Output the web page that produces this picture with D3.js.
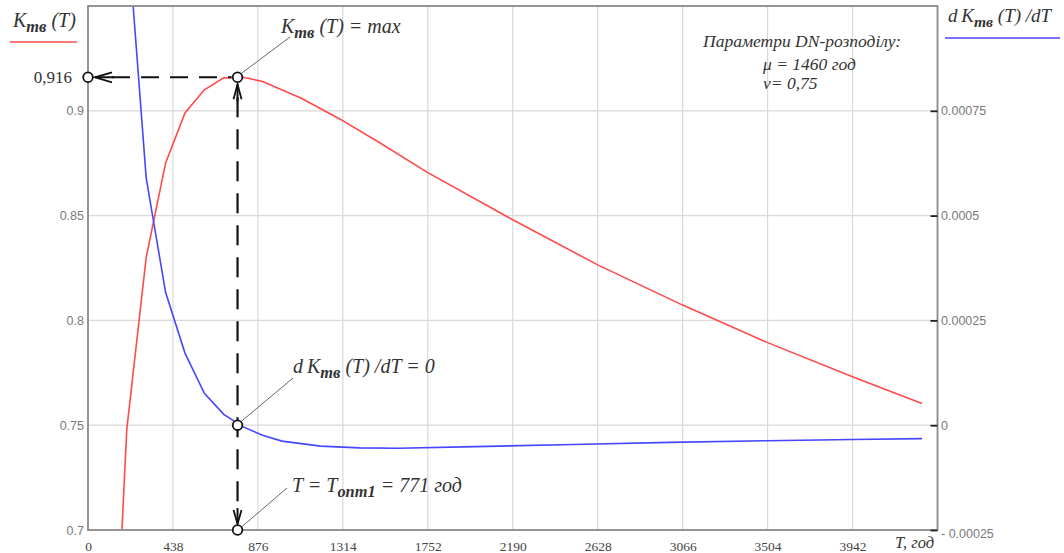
<!DOCTYPE html>
<html>
<head>
<meta charset="utf-8">
<script src="https://cdn.jsdelivr.net/npm/d3@7"></script>
<style>
  html, body { margin: 0; padding: 0; background: #fff; }
  svg { display: block; }
</style>
</head>
<body>
<svg id="chart" width="1064" height="553"></svg>
<script>
// ---------- data ----------
const T_RED = [175, 200, 300, 400, 500, 600, 700, 800, 900, 1100, 1300, 1500, 1752, 2190, 2628, 3066, 3504, 3942, 4300];
const K_RED = [0.700, 0.748, 0.830, 0.875, 0.899, 0.910, 0.9157, 0.916, 0.914, 0.906, 0.896, 0.885, 0.8705, 0.848, 0.8265, 0.8073, 0.7894, 0.7731, 0.7604];

const T_BLUE = [200, 300, 400, 500, 600, 700, 800, 900, 1000, 1200, 1400, 1600, 2000, 2500, 3000, 3500, 3942, 4300];
const DK_BLUE = [0.0012, 0.00059, 0.000317, 0.000172, 0.000076, 0.000026, -0.000004, -0.000024, -0.000038, -0.00005, -0.000054, -0.000055, -0.000051, -0.000046, -0.000041, -0.000037, -0.000034, -0.000032];

const X_TICKS = [0, 438, 876, 1314, 1752, 2190, 2628, 3066, 3504, 3942];
const LEFT_TICKS = [0.7, 0.75, 0.8, 0.85, 0.9];
const LEFT_LABELS = ["0.7", "0.75", "0.8", "0.85", "0.9"];
const RIGHT_TICKS = [-0.00025, 0, 0.00025, 0.0005, 0.00075];
const RIGHT_LABELS = ["- 0.00025", "0", "0.00025", "0.0005", "0.00075"];

const T_OPT = 771;
const K_MAX = 0.916;
const K_MAX_LABEL = "0,916";
const PARAM_LINES = ["Параметри DN-розподілу:", "μ = 1460 год", "ν= 0,75"];

// ---------- layout ----------
const L = 88, R = 937.5, TOP = 6, B = 530;
const svg = d3.select("#chart");
svg.append("rect").attr("width", 1064).attr("height", 553).attr("fill", "#fff");

const x = d3.scaleLinear().domain([0, 4380]).range([L, R]);
const yL = d3.scaleLinear().domain([0.7, 0.95]).range([B, TOP]);
const yR = d3.scaleLinear().domain([-0.00025, 0.001]).range([B, TOP]);

const SERIF = "'Liberation Serif','Times New Roman',serif";
const SANS = "'Liberation Sans',Arial,sans-serif";

// grid
const grid = svg.append("g").attr("stroke", "#d9d9d9").attr("stroke-width", 1.2);
X_TICKS.filter(d => d > 0).forEach(d => {
  grid.append("line").attr("x1", x(d)).attr("x2", x(d)).attr("y1", TOP).attr("y2", B);
});
LEFT_TICKS.filter(d => d > 0.7).forEach(d => {
  grid.append("line").attr("x1", L).attr("x2", R).attr("y1", yL(d)).attr("y2", yL(d));
});

// curves
svg.append("clipPath").attr("id", "clip").append("rect")
  .attr("x", L).attr("y", TOP).attr("width", R - L).attr("height", B - TOP);
const redLine = d3.line().x((d, i) => x(T_RED[i])).y(d => yL(d));
const blueLine = d3.line().x((d, i) => x(T_BLUE[i])).y(d => yR(d));
const curves = svg.append("g").attr("clip-path", "url(#clip)");
curves.append("path").attr("d", redLine(K_RED)).attr("fill", "none")
  .attr("stroke", "#ff4a4a").attr("stroke-width", 1.6);
curves.append("path").attr("d", blueLine(DK_BLUE)).attr("fill", "none")
  .attr("stroke", "#4646ff").attr("stroke-width", 1.6);

// frame
svg.append("rect").attr("x", L).attr("y", TOP).attr("width", R - L).attr("height", B - TOP)
  .attr("fill", "none").attr("stroke", "#8a8a8a").attr("stroke-width", 1.8);

// axes
const xAxis = svg.append("g").attr("transform", `translate(0,${B})`)
  .call(d3.axisBottom(x).tickValues(X_TICKS).tickSize(0).tickPadding(11).tickFormat(d => String(d)));
xAxis.select(".domain").remove();
xAxis.selectAll("text").attr("font-family", SERIF).attr("font-size", 13.5).attr("fill", "#444");

const lAxis = svg.append("g").attr("transform", `translate(${L},0)`)
  .call(d3.axisLeft(yL).tickValues(LEFT_TICKS).tickSize(0).tickPadding(4)
    .tickFormat((d, i) => LEFT_LABELS[i]));
lAxis.select(".domain").remove();
lAxis.selectAll("text").attr("font-family", SANS).attr("font-size", 12.5).attr("fill", "#7a7a7a");

const rAxis = svg.append("g").attr("transform", `translate(${R},0)`)
  .call(d3.axisRight(yR).tickValues(RIGHT_TICKS).tickSizeInner(-7).tickSizeOuter(0).tickPadding(3.5)
    .tickFormat((d, i) => RIGHT_LABELS[i]));
rAxis.select(".domain").remove();
rAxis.selectAll("line").attr("stroke", "#222").attr("stroke-width", 1.8);
rAxis.selectAll("text").attr("font-family", SANS).attr("font-size", 12.5).attr("fill", "#7a7a7a");
rAxis.selectAll(".tick").filter(d => d === -0.00025).select("text").attr("dy", "0.62em");

// x axis title
svg.append("text").attr("x", 895).attr("y", 548).attr("font-family", SERIF)
  .attr("font-style", "italic").attr("font-size", 16.5).attr("fill", "#333").text("T, год");

// rich text helper
function rich(xp, yp, size, parts, color) {
  const t = svg.append("text").attr("x", xp).attr("y", yp).attr("font-family", SERIF)
    .attr("font-size", size).attr("fill", color || "#333").attr("font-style", "italic");
  let shift = 0;
  parts.forEach(p => {
    const s = t.append("tspan").text(p.t).attr("xml:space", "preserve");
    const target = p.sub ? 5 : 0;
    if (target !== shift) { s.attr("dy", target - shift); shift = target; }
    if (p.sub) s.attr("font-size", size * 0.82).attr("font-weight", "bold");
  });
  return t;
}

// legends
rich(13, 27, 20, [{t: "K"}, {t: "тв", sub: true}, {t: "\u00a0(T)"}]);
svg.append("line").attr("x1", 10).attr("x2", 77).attr("y1", 42).attr("y2", 42)
  .attr("stroke", "#ff4a4a").attr("stroke-width", 1.6);
rich(948, 22, 19, [{t: "d\u2009K"}, {t: "тв", sub: true}, {t: "\u00a0(T) /dT"}]);
svg.append("line").attr("x1", 945).attr("x2", 1060).attr("y1", 38).attr("y2", 38)
  .attr("stroke", "#4646ff").attr("stroke-width", 1.6);

// parameters
const params = [[703, 47], [763, 70], [763, 88.5]];
PARAM_LINES.forEach((s, i) => {
  svg.append("text").attr("x", params[i][0]).attr("y", params[i][1]).attr("font-family", SERIF)
    .attr("font-style", "italic").attr("font-size", 17.5).attr("fill", "#333").text(s);
});

// optimum annotation
const xo = x(T_OPT), yMax = yL(K_MAX), yZero = yR(0), yBot = yL(0.7);
const ann = svg.append("g").attr("stroke", "#111").attr("fill", "none");
// dashed guides
ann.append("line").attr("x1", x(0) + 24).attr("x2", xo - 6).attr("y1", yMax).attr("y2", yMax)
  .attr("stroke-width", 2.2).attr("stroke-dasharray", "18,11");
ann.append("line").attr("x1", xo).attr("x2", xo).attr("y1", yMax + 20).attr("y2", yBot - 18)
  .attr("stroke-width", 2.2).attr("stroke-dasharray", "20,12");
// arrows
ann.append("line").attr("x1", x(0) + 7).attr("x2", x(0) + 26).attr("y1", yMax).attr("y2", yMax).attr("stroke-width", 2);
ann.append("path").attr("d", `M${x(0) + 24},${yMax - 5}L${x(0) + 7},${yMax}L${x(0) + 24},${yMax + 5}`).attr("stroke-width", 1.8);
ann.append("line").attr("x1", xo).attr("x2", xo).attr("y1", yMax + 7).attr("y2", yMax + 24).attr("stroke-width", 2);
ann.append("path").attr("d", `M${xo - 4},${yMax + 22}L${xo},${yMax + 7}L${xo + 4},${yMax + 22}`).attr("stroke-width", 1.8);
ann.append("line").attr("x1", xo).attr("x2", xo).attr("y1", yBot - 22).attr("y2", yBot - 6).attr("stroke-width", 2);
ann.append("path").attr("d", `M${xo - 4},${yBot - 20}L${xo},${yBot - 6}L${xo + 4},${yBot - 20}`).attr("stroke-width", 1.8);

// leader lines
const lead = svg.append("g").attr("stroke", "#555").attr("stroke-width", 0.9);
lead.append("line").attr("x1", xo + 4).attr("y1", yMax - 4).attr("x2", 290).attr("y2", 37);
lead.append("line").attr("x1", xo + 4).attr("y1", yZero - 4).attr("x2", 293).attr("y2", 378);
lead.append("line").attr("x1", xo + 4).attr("y1", yBot - 3).attr("x2", 287).attr("y2", 488);

// markers
[[x(0), yMax], [xo, yMax], [xo, yZero], [xo, yBot]].forEach(([cx, cy]) => {
  svg.append("circle").attr("cx", cx).attr("cy", cy).attr("r", 4.8)
    .attr("fill", "#fff").attr("stroke", "#111").attr("stroke-width", 1.8);
});

// 0,916 label
svg.append("text").attr("x", 72).attr("y", yMax + 6).attr("text-anchor", "end")
  .attr("font-family", SERIF).attr("font-size", 17).attr("fill", "#333").text(K_MAX_LABEL);

// annotation texts
rich(281, 33, 20, [{t: "K"}, {t: "тв", sub: true}, {t: "\u00a0(T) = max"}]);
rich(293, 373, 20, [{t: "d\u2009K"}, {t: "тв", sub: true}, {t: "\u00a0(T) /dT = 0"}]);
rich(292, 492, 20, [{t: "T = T"}, {t: "опт1", sub: true}, {t: " = " + T_OPT + " год"}]);
</script>
</body>
</html>
